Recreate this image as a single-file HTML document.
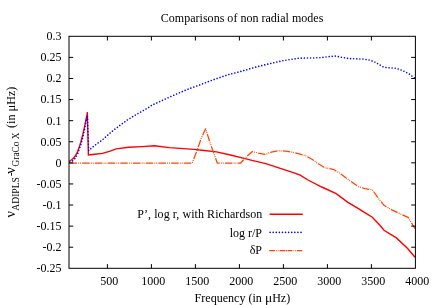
<!DOCTYPE html>
<html><head><meta charset="utf-8"><style>
html,body{margin:0;padding:0;background:#fff;}
body{width:436px;height:305px;overflow:hidden;}
svg{display:block;will-change:transform;font-family:"Liberation Serif",serif;font-size:12px;fill:#000;}
</style></head><body>
<svg width="436" height="305" viewBox="0 0 436 305">
<rect width="436" height="305" fill="#fff"/>
<polyline points="69.5,161.3 72.3,159.2 74.9,156.5 77.0,152.9 79.1,147.6 80.7,142.4 81.7,138.7 82.8,134.5 84.4,127.3 85.7,120.9 86.9,115.3 87.3,112.0 88.4,155.0 95.0,154.3 102.5,153.4 109.4,151.3 116.3,148.9 128.7,147.2 142.0,146.6 154.4,145.8 169.5,147.6 183.3,148.6 194.3,149.4 202.0,150.3 216.6,151.9 230.4,155.0 244.2,158.4 252.0,160.4 265.8,163.6 279.5,168.2 293.3,172.6 300.2,175.1 308.0,180.0 321.8,187.0 336.2,193.6 347.9,202.4 358.9,208.8 362.0,210.8 372.3,217.2 379.9,225.3 384.0,230.3 396.4,237.9 407.4,248.2 415.0,257.2" fill="none" stroke="#ff0000" stroke-width="1.4" stroke-linejoin="miter"/>
<polyline points="69.7,162.0 73.0,160.7 75.7,157.6 77.8,153.4 79.3,149.2 80.9,144.5 82.3,139.2 83.3,135.0 84.9,127.5 86.1,121.0 87.1,116.5 87.4,115.3 88.7,150.6 89.4,149.8 95.8,144.6 102.1,140.2 108.3,134.6 113.8,130.0 120.6,124.8 127.5,119.9 134.4,115.6 141.3,111.7 148.2,107.8 152.0,105.0 158.5,102.2 164.4,99.4 176.8,93.9 187.4,89.4 199.8,84.9 213.5,79.6 227.3,74.9 242.7,70.9 255.8,67.1 269.5,63.7 283.3,60.6 298.7,58.2 311.8,58.0 320.0,57.7 329.7,56.6 335.4,56.1 342.0,57.3 348.9,58.6 357.2,58.9 363.1,59.1 369.1,60.0 373.7,61.4 378.2,64.0 382.8,66.7 387.3,67.8 396.4,68.3 402.4,70.5 408.5,73.5 414.8,78.2" fill="none" stroke="#0000ff" stroke-width="1.6" stroke-linecap="round" stroke-dasharray="0.01 3.09"/>
<polyline points="69.5,163.0 192.2,163.0 197.0,150.6 201.2,138.3 205.6,128.8 209.8,141.9 213.9,153.6 217.3,163.0 240.7,163.0 246.9,156.3 252.4,151.5 258.2,153.1 265.1,154.4 271.3,152.1 278.1,150.7 287.8,151.3 297.4,153.3 305.7,155.8 312.0,159.3 316.3,162.4 324.5,167.6 334.1,169.7 341.0,174.1 349.3,180.3 358.9,186.9 365.0,188.6 372.3,189.8 378.5,198.4 384.0,205.3 392.3,210.1 400.5,214.0 408.1,217.4 412.9,225.3 415.0,228.6" fill="none" stroke="#ff4500" stroke-width="1.25" stroke-linejoin="round" stroke-dasharray="7.5 1.2 0.9 1.0 0.9 1.2"/>
<line x1="269.6" y1="214.3" x2="302.8" y2="214.3" stroke="#ff0000" stroke-width="1.6"/>
<line x1="270.1" y1="232.4" x2="301.2" y2="232.4" stroke="#0000ff" stroke-width="1.6" stroke-linecap="round" stroke-dasharray="0.01 3.08"/>
<line x1="269.2" y1="250.6" x2="302.7" y2="250.6" stroke="#ff4500" stroke-width="1.2" stroke-dasharray="5.9 1.1 0.7 0.9 0.7 1.1 5.4 0.5 1.5 0.5 4.9 1.1 0.7 0.9 0.7 1.1 5.4 9"/>
<rect x="69.0" y="36.3" width="346.4" height="232.0" fill="none" stroke="#000" stroke-width="1"/>
<text x="61.5" y="40.15" text-anchor="end">0.3</text>
<line x1="69.0" y1="57.39" x2="73.2" y2="57.39" stroke="#000"/>
<line x1="415.4" y1="57.39" x2="411.2" y2="57.39" stroke="#000"/>
<text x="61.5" y="61.24" text-anchor="end">0.25</text>
<line x1="69.0" y1="78.48" x2="73.2" y2="78.48" stroke="#000"/>
<line x1="415.4" y1="78.48" x2="411.2" y2="78.48" stroke="#000"/>
<text x="61.5" y="82.33" text-anchor="end">0.2</text>
<line x1="69.0" y1="99.57" x2="73.2" y2="99.57" stroke="#000"/>
<line x1="415.4" y1="99.57" x2="411.2" y2="99.57" stroke="#000"/>
<text x="61.5" y="103.42" text-anchor="end">0.15</text>
<line x1="69.0" y1="120.66" x2="73.2" y2="120.66" stroke="#000"/>
<line x1="415.4" y1="120.66" x2="411.2" y2="120.66" stroke="#000"/>
<text x="61.5" y="124.51" text-anchor="end">0.1</text>
<line x1="69.0" y1="141.75" x2="73.2" y2="141.75" stroke="#000"/>
<line x1="415.4" y1="141.75" x2="411.2" y2="141.75" stroke="#000"/>
<text x="61.5" y="145.60" text-anchor="end">0.05</text>
<line x1="69.0" y1="162.85" x2="73.2" y2="162.85" stroke="#000"/>
<line x1="415.4" y1="162.85" x2="411.2" y2="162.85" stroke="#000"/>
<text x="61.5" y="166.70" text-anchor="end">0</text>
<line x1="69.0" y1="183.94" x2="73.2" y2="183.94" stroke="#000"/>
<line x1="415.4" y1="183.94" x2="411.2" y2="183.94" stroke="#000"/>
<text x="61.5" y="187.79" text-anchor="end">-0.05</text>
<line x1="69.0" y1="205.03" x2="73.2" y2="205.03" stroke="#000"/>
<line x1="415.4" y1="205.03" x2="411.2" y2="205.03" stroke="#000"/>
<text x="61.5" y="208.88" text-anchor="end">-0.1</text>
<line x1="69.0" y1="226.12" x2="73.2" y2="226.12" stroke="#000"/>
<line x1="415.4" y1="226.12" x2="411.2" y2="226.12" stroke="#000"/>
<text x="61.5" y="229.97" text-anchor="end">-0.15</text>
<line x1="69.0" y1="247.21" x2="73.2" y2="247.21" stroke="#000"/>
<line x1="415.4" y1="247.21" x2="411.2" y2="247.21" stroke="#000"/>
<text x="61.5" y="251.06" text-anchor="end">-0.2</text>
<text x="61.5" y="272.15" text-anchor="end">-0.25</text>
<line x1="107.40" y1="268.3" x2="107.40" y2="264.1" stroke="#000"/>
<line x1="107.40" y1="36.3" x2="107.40" y2="40.5" stroke="#000"/>
<text x="109.20" y="285.1" text-anchor="middle" font-size="12">500</text>
<line x1="151.40" y1="268.3" x2="151.40" y2="264.1" stroke="#000"/>
<line x1="151.40" y1="36.3" x2="151.40" y2="40.5" stroke="#000"/>
<text x="153.20" y="285.1" text-anchor="middle" font-size="12">1000</text>
<line x1="195.40" y1="268.3" x2="195.40" y2="264.1" stroke="#000"/>
<line x1="195.40" y1="36.3" x2="195.40" y2="40.5" stroke="#000"/>
<text x="197.20" y="285.1" text-anchor="middle" font-size="12">1500</text>
<line x1="239.40" y1="268.3" x2="239.40" y2="264.1" stroke="#000"/>
<line x1="239.40" y1="36.3" x2="239.40" y2="40.5" stroke="#000"/>
<text x="241.20" y="285.1" text-anchor="middle" font-size="12">2000</text>
<line x1="283.40" y1="268.3" x2="283.40" y2="264.1" stroke="#000"/>
<line x1="283.40" y1="36.3" x2="283.40" y2="40.5" stroke="#000"/>
<text x="285.20" y="285.1" text-anchor="middle" font-size="12">2500</text>
<line x1="327.40" y1="268.3" x2="327.40" y2="264.1" stroke="#000"/>
<line x1="327.40" y1="36.3" x2="327.40" y2="40.5" stroke="#000"/>
<text x="329.20" y="285.1" text-anchor="middle" font-size="12">3000</text>
<line x1="371.40" y1="268.3" x2="371.40" y2="264.1" stroke="#000"/>
<line x1="371.40" y1="36.3" x2="371.40" y2="40.5" stroke="#000"/>
<text x="373.20" y="285.1" text-anchor="middle" font-size="12">3500</text>
<text x="417.20" y="285.1" text-anchor="middle" font-size="12">4000</text>
<text x="242.1" y="21.5" text-anchor="middle" letter-spacing="0.02">Comparisons of non radial modes</text>
<text x="242.4" y="302.3" text-anchor="middle" font-size="12.05">Frequency (in <tspan font-size="13.5">μ</tspan>Hz)</text>
<text x="262.3" y="218.0" text-anchor="end" letter-spacing="0.055">P’, log r, with Richardson</text>
<text x="262.0" y="236.6" text-anchor="end">log r/P</text>
<text x="262.0" y="254.3" text-anchor="end">δP</text>
<g transform="translate(15.3,0) rotate(-90)"><text x="-217.5" y="0" font-size="14.3">ν</text><text x="-210.7" y="3.5" font-size="9.6">ADIPLS</text><text x="-176.3" y="0">-</text><text x="-173.75" y="0" font-size="14.3">ν</text><text x="-166.4" y="3.5" font-size="9.3">GraCo X</text><text x="-127.9" y="0">(in <tspan font-size="12.6">μ</tspan>Hz)</text></g>
</svg></body></html>
